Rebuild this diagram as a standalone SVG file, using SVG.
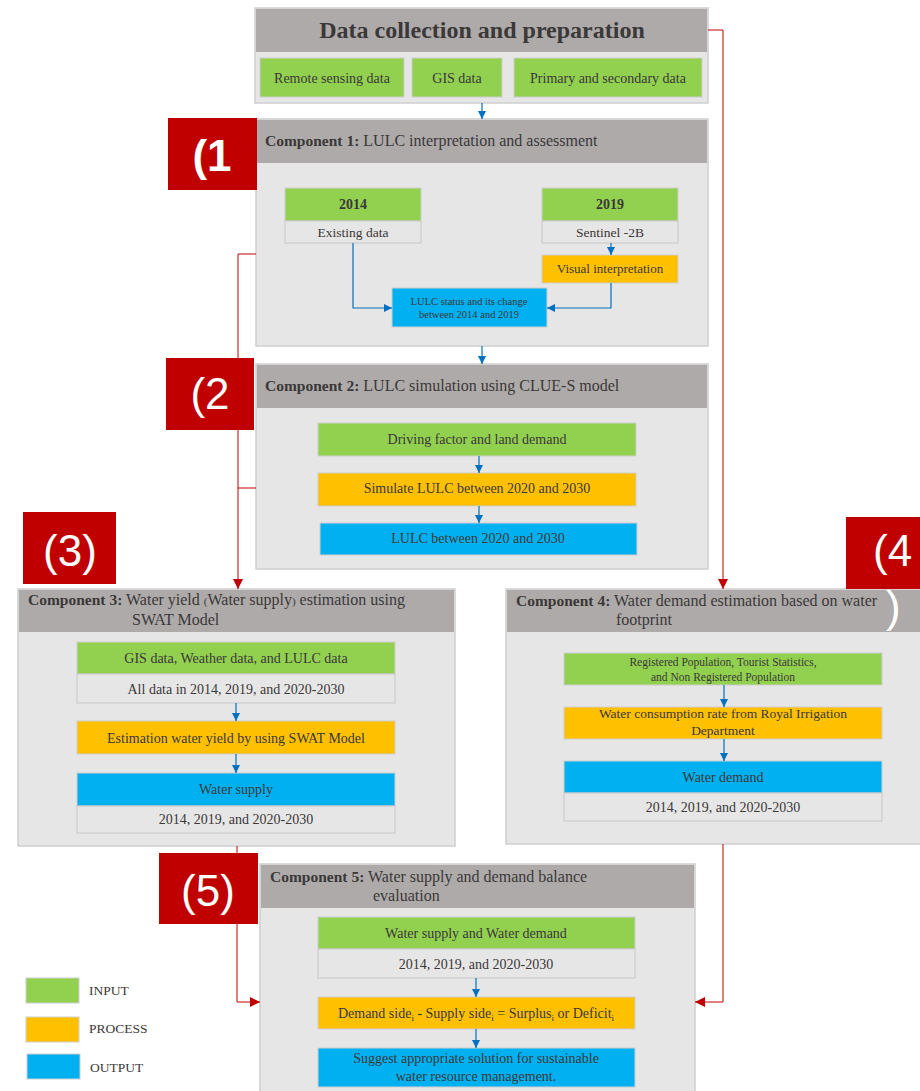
<svg xmlns="http://www.w3.org/2000/svg" width="920" height="1091" viewBox="0 0 920 1091">
<style>
.panel{fill:#E7E6E6;stroke:#D0CECE;stroke-width:1.5}
.head{fill:#AEAAAA}
.in{fill:#92D050;stroke:#D0CECE;stroke-width:1}
.pr{fill:#FFC000;stroke:#D0CECE;stroke-width:1}
.out{fill:#00B0F0;stroke:#D0CECE;stroke-width:1}
.cell{fill:#E7E6E6;stroke:#C9C7C7;stroke-width:1}
text{font-family:"Liberation Serif","Times New Roman",serif;fill:#3B3838}
.c{text-anchor:middle}
.h{font-size:16px}
.b{font-weight:bold}
.lab{fill:#C00000}
.lt{font-family:"Liberation Sans",Arial,sans-serif;font-size:44px;fill:#FFFFFF}
.blue{stroke:#0070C0;stroke-width:1.2;fill:none;marker-end:url(#ab)}
.red{stroke:#C00000;stroke-width:1;fill:none}
.reda{stroke:#C00000;stroke-width:1;fill:none;marker-end:url(#ar)}
</style>
<defs>
<marker id="ab" markerUnits="userSpaceOnUse" markerWidth="8" markerHeight="8" refX="8" refY="4" orient="auto"><path d="M0,0 L8,4 L0,8 z" fill="#0070C0"/></marker>
<marker id="ar" markerUnits="userSpaceOnUse" markerWidth="10" markerHeight="10" refX="10" refY="5" orient="auto"><path d="M0,0 L10,5 L0,10 z" fill="#C00000"/></marker>
</defs>
<rect width="920" height="1091" fill="#FFFFFF"/>

<g id="data-collection">
<rect class="panel" x="255" y="8" width="453" height="95"/>
<rect class="head" x="256" y="9" width="451" height="43"/>
<text class="c b" x="482" y="38" style="font-size:24px">Data collection and preparation</text>
<rect class="in" x="260" y="58" width="144" height="39"/>
<text class="c" x="332" y="83" style="font-size:14px">Remote sensing data</text>
<rect class="in" x="412" y="58" width="90" height="39"/>
<text class="c" x="457" y="83" style="font-size:14px">GIS data</text>
<rect class="in" x="514" y="58" width="188" height="39"/>
<text class="c" x="608" y="83" style="font-size:14px">Primary and secondary data</text>
</g>

<g id="component1">
<rect class="panel" x="256" y="119" width="452" height="227"/>
<rect class="head" x="257" y="120" width="450" height="43"/>
<text class="h" x="265" y="146"><tspan class="b" style="font-size:15.5px">Component 1:</tspan> LULC interpretation and assessment</text>
<rect class="in" x="285" y="188" width="136" height="33"/>
<text class="c b" x="353" y="209" style="font-size:14px">2014</text>
<rect class="cell" x="285" y="221" width="136" height="22"/>
<text class="c" x="353" y="237" style="font-size:13.5px">Existing data</text>
<rect class="in" x="542" y="188" width="136" height="33"/>
<text class="c b" x="610" y="209" style="font-size:14px">2019</text>
<rect class="cell" x="542" y="221" width="136" height="22"/>
<text class="c" x="610" y="237" style="font-size:13.5px">Sentinel -2B</text>
<rect class="pr" x="542" y="255" width="136" height="28"/>
<text class="c" x="610" y="273" style="font-size:13px">Visual  interpretation</text>
<rect class="out" x="392" y="288" width="155" height="39"/>
<text class="c" x="469" y="305" style="font-size:10.5px">LULC status and its change</text>
<text class="c" x="469" y="318" style="font-size:10.5px">between 2014 and 2019</text>
</g>

<g id="component2">
<rect class="panel" x="256" y="364" width="452" height="205"/>
<rect class="head" x="257" y="365" width="450" height="43"/>
<text class="h" x="265" y="391"><tspan class="b" style="font-size:15.5px">Component 2:</tspan> LULC simulation using CLUE-S model</text>
<rect class="in" x="318" y="423" width="318" height="33"/>
<text class="c" x="477" y="444" style="font-size:14px">Driving factor and land demand</text>
<rect class="pr" x="318" y="473" width="318" height="33"/>
<text class="c" x="477" y="493" style="font-size:14px">Simulate LULC  between 2020 and 2030</text>
<rect class="out" x="320" y="523" width="317" height="32"/>
<text class="c" x="478" y="543" style="font-size:14px">LULC  between 2020 and 2030</text>
</g>

<g id="component3">
<rect class="panel" x="18" y="589" width="437" height="257"/>
<rect class="head" x="19" y="590" width="435" height="42"/>
<text class="h" x="28" y="605"><tspan class="b" style="font-size:15.5px">Component 3:</tspan> Water yield <tspan style="font-size:11px">(</tspan>Water supply<tspan style="font-size:11px">)</tspan> estimation using</text>
<text class="h" x="132" y="625">SWAT Model</text>
<rect class="in" x="77" y="642" width="318" height="32"/>
<text class="c" x="236" y="663" style="font-size:14px">GIS data, Weather data, and LULC  data</text>
<rect class="cell" x="77" y="674" width="318" height="29"/>
<text class="c" x="236" y="694" style="font-size:14px">All data in 2014, 2019, and 2020-2030</text>
<rect class="pr" x="77" y="721" width="318" height="33"/>
<text class="c" x="236" y="743" style="font-size:14px">Estimation water yield by using SWAT Model</text>
<rect class="out" x="77" y="773" width="318" height="33"/>
<text class="c" x="236" y="794" style="font-size:14px">Water supply</text>
<rect class="cell" x="77" y="806" width="318" height="27"/>
<text class="c" x="236" y="824" style="font-size:14px">2014, 2019, and 2020-2030</text>
</g>

<g id="component4">
<rect class="panel" x="506" y="589" width="420" height="255"/>
<rect class="head" x="507" y="590" width="418" height="42"/>
<text class="h" x="516" y="606"><tspan class="b" style="font-size:15.5px">Component 4:</tspan> Water demand estimation based on water</text>
<text class="h" x="616" y="625">footprint</text>
<rect class="in" x="564" y="653" width="318" height="32"/>
<text class="c" x="723" y="666" style="font-size:11.5px">Registered Population, Tourist Statistics,</text>
<text class="c" x="723" y="681" style="font-size:11.5px">and Non Registered Population</text>
<rect class="pr" x="564" y="707" width="318" height="32"/>
<text class="c" x="723" y="718" style="font-size:13.5px">Water  consumption rate  from Royal Irrigation</text>
<text class="c" x="723" y="735" style="font-size:13.5px">Department</text>
<rect class="out" x="564" y="761" width="318" height="32"/>
<text class="c" x="723" y="782" style="font-size:14px">Water  demand</text>
<rect class="cell" x="564" y="793" width="318" height="28"/>
<text class="c" x="723" y="812" style="font-size:14px">2014, 2019, and  2020-2030</text>
</g>

<g id="component5">
<rect class="panel" x="260" y="864" width="435" height="232"/>
<rect class="head" x="261" y="865" width="433" height="43"/>
<text class="h" x="270" y="882"><tspan class="b" style="font-size:15.5px">Component 5:</tspan> Water supply and demand balance</text>
<text class="h" x="373" y="901">evaluation</text>
<rect class="in" x="318" y="917" width="317" height="32"/>
<text class="c" x="476" y="938" style="font-size:14px">Water supply and Water demand</text>
<rect class="cell" x="318" y="949" width="317" height="29"/>
<text class="c" x="476" y="969" style="font-size:14px">2014, 2019, and 2020-2030</text>
<rect class="pr" x="318" y="997" width="317" height="32"/>
<text class="c" x="476" y="1018" style="font-size:14px">Demand side<tspan style="font-size:9px" dy="3">i</tspan><tspan dy="-3"> - Supply side</tspan><tspan style="font-size:9px" dy="3">i</tspan><tspan dy="-3"> = Surplus</tspan><tspan style="font-size:9px" dy="3">i</tspan><tspan dy="-3"> or Deficit</tspan><tspan style="font-size:9px" dy="3">i</tspan></text>
<rect class="out" x="318" y="1048" width="317" height="39"/>
<text class="c" x="476" y="1063" style="font-size:14px">Suggest appropriate solution for sustainable</text>
<text class="c" x="476" y="1081" style="font-size:14px">water resource management.</text>
</g>

<g id="labels">
<rect class="lab" x="168" y="118" width="89" height="72"/>
<text class="lt" x="212" y="171" text-anchor="middle" style="font-weight:bold">(1</text>
<rect class="lab" x="166" y="358" width="88" height="72"/>
<text class="lt" x="210" y="409" text-anchor="middle">(2</text>
<rect class="lab" x="23" y="512" width="93" height="72"/>
<text class="lt" x="70" y="566" text-anchor="middle">(3)</text>
<rect class="lab" x="846" y="517" width="74" height="72"/>
<text class="lt" x="873" y="566">(4</text>
<text class="lt" x="886" y="622">)</text>
<rect class="lab" x="159" y="853" width="99" height="71"/>
<text class="lt" x="208" y="906" text-anchor="middle">(5)</text>
</g>

<g id="legend">
<rect class="in" x="26" y="978" width="53" height="25"/>
<text x="89" y="995" style="font-size:13.5px">INPUT</text>
<rect class="pr" x="26" y="1017" width="53" height="25"/>
<text x="89" y="1033" style="font-size:13.5px">PROCESS</text>
<rect class="out" x="27" y="1054" width="53" height="25"/>
<text x="90" y="1072" style="font-size:13.5px">OUTPUT</text>
</g>

<g id="connectors">
<line class="blue" x1="482" y1="103" x2="482" y2="119"/>
<line class="blue" x1="482" y1="346" x2="482" y2="364"/>
<path class="blue" d="M353,243 V308 H392"/>
<line class="blue" x1="611" y1="243" x2="611" y2="255"/>
<path class="blue" d="M611,283 V308 H547"/>
<line class="blue" x1="479" y1="456" x2="479" y2="473"/>
<line class="blue" x1="479" y1="506" x2="479" y2="523"/>
<line class="blue" x1="236" y1="703" x2="236" y2="721"/>
<line class="blue" x1="236" y1="754" x2="236" y2="773"/>
<line class="blue" x1="724" y1="685" x2="724" y2="707"/>
<line class="blue" x1="724" y1="739" x2="724" y2="761"/>
<line class="blue" x1="476" y1="978" x2="476" y2="997"/>
<line class="blue" x1="476" y1="1029" x2="476" y2="1048"/>
<path class="reda" d="M708,30 H723 V589"/>
<path class="reda" d="M256,254 H238 V589"/>
<path class="red" d="M256,488 H238"/>
<path class="reda" d="M237,846 V1002 H260"/>
<path class="reda" d="M723,844 V1002 H695"/>
</g>
</svg>
